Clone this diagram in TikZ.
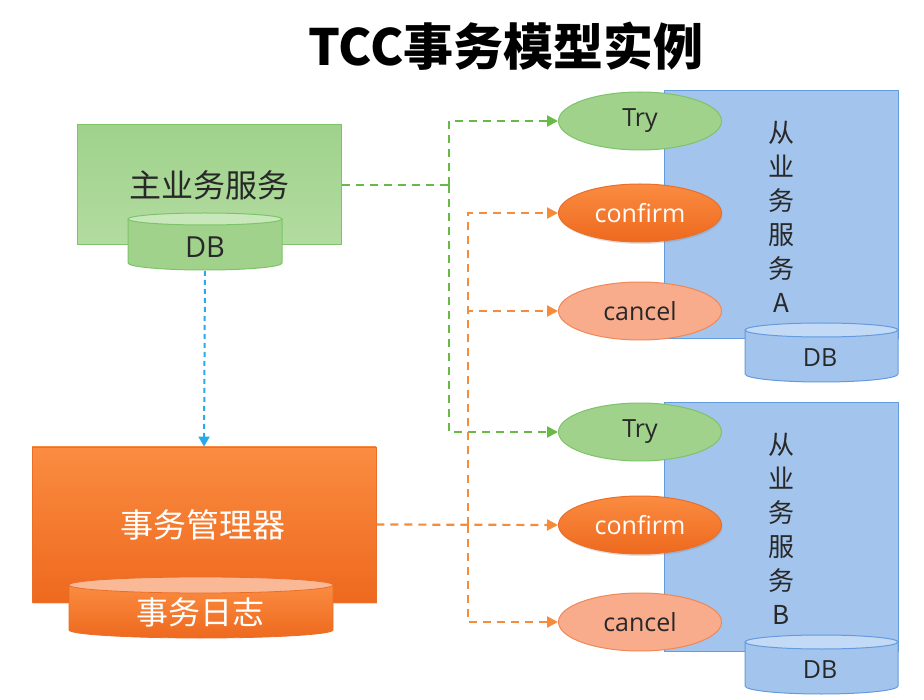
\documentclass[tikz,border=0pt]{standalone}
\usepackage{fontspec}
\setmainfont{Noto Sans CJK SC}
\newfontfamily\latinf{Open Sans}
\usetikzlibrary{shapes.geometric,arrows.meta,shadows}
\definecolor{gTop}{RGB}{160,210,140}
\definecolor{gBot}{RGB}{178,220,160}
\definecolor{gLine}{RGB}{125,195,105}
\definecolor{gDash}{RGB}{105,185,70}
\definecolor{oTop}{RGB}{250,140,65}
\definecolor{oBot}{RGB}{238,105,30}
\definecolor{oLine}{RGB}{235,110,40}
\definecolor{oDash}{RGB}{245,140,60}
\definecolor{oLight}{RGB}{250,185,150}
\definecolor{cFill}{RGB}{248,172,140}
\definecolor{cLine}{RGB}{240,135,85}
\definecolor{bFill}{RGB}{163,196,236}
\definecolor{bLine}{RGB}{100,155,222}
\definecolor{bLight}{RGB}{195,218,246}
\definecolor{bArrow}{RGB}{40,170,235}
\definecolor{txt}{RGB}{40,40,40}
\definecolor{gLight}{RGB}{200,232,188}
\tikzset{
  opbox/.style={ellipse, minimum width=163pt, minimum height=58pt, inner sep=0pt, line width=1pt},
  trybox/.style={opbox, fill=gTop, draw=gLine, text=txt, font=\latinf\fontsize{25}{28}\selectfont},
  confbox/.style={opbox, top color=oTop, bottom color=oBot, draw=oLine, text=white, font=\latinf\fontsize{25}{28}\selectfont, drop shadow={shadow xshift=1pt, shadow yshift=-2pt, opacity=0.25}},
  cancbox/.style={opbox, fill=cFill, draw=cLine, text=txt, font=\latinf\fontsize{25}{28}\selectfont},
  svcbox/.style={rectangle, fill=bFill, draw=bLine, line width=1pt, minimum width=234pt, minimum height=248pt, inner sep=0pt},
  gdash/.style={draw=gDash, line width=2.2pt, dash pattern=on 8pt off 6pt},
  odash/.style={draw=oDash, line width=2.2pt, dash pattern=on 8pt off 6pt},
  tip/.style={-{Triangle[length=11pt,width=11pt]}},
}
\begin{document}
\begin{tikzpicture}[x=1pt,y=-1pt]
\useasboundingbox[fill=white] (0,0) rectangle (924,700);
% title
\node[font=\bfseries\fontsize{50}{54}\selectfont, text=black] (title) at (506,46) {TCC事务模型实例};
% main service
\node[rectangle, minimum width=264pt, minimum height=120pt, top color=gTop, bottom color=gBot, draw=gLine, line width=1pt, text=txt, font=\fontsize{32}{36}\selectfont, inner sep=0pt] (main) at (209,185) {主业务服务};
% main DB cylinder
\fill[gTop] (128,219) -- (128,263) arc[start angle=180,end angle=0,x radius=77,y radius=7] -- (282,219) -- cycle;
\draw[gLine, line width=1pt] (128,219) -- (128,263) arc[start angle=180,end angle=0,x radius=77,y radius=7] -- (282,219);
\filldraw[fill=gLight, draw=gLine, line width=1pt] (205,219) ellipse[x radius=77, y radius=6];
\node[text=txt, font=\latinf\fontsize{29}{32}\selectfont] (mdb) at (205,247) {DB};
\coordinate (mdbbot) at (205,271);
% transaction manager
\node[rectangle, minimum width=344pt, minimum height=155pt, top color=oTop, bottom color=oBot, draw=oLine, line width=0.8pt, inner sep=0pt, drop shadow={shadow xshift=1pt, shadow yshift=-2pt, opacity=0.25}] (tm) at (204,524.5) {};
\node[text=white, font=\fontsize{33}{36}\selectfont] (tmtext) at (203,525) {事务管理器};
% log cylinder
\shade[top color=oTop, bottom color=oBot] (69,585) -- (69,630) arc[start angle=180,end angle=0,x radius=132,y radius=8] -- (333,585) -- cycle;
\draw[oLine, line width=0.8pt] (69,585) -- (69,630) arc[start angle=180,end angle=0,x radius=132,y radius=8] -- (333,585);
\filldraw[fill=oLight, draw=oLine, line width=0.8pt] (201,585) ellipse[x radius=132, y radius=8];
\node[text=white, font=\fontsize{32}{36}\selectfont] (log) at (200,612) {事务日志};
% service A
\node[svcbox] (sA) at (781,215) {};
\node[align=center, text=txt, font=\fontsize{26}{34}\selectfont] (sAt) at (781,217) {从\\业\\务\\服\\务\\A};
\fill[bFill] (745,330) -- (745,374) arc[start angle=180,end angle=0,x radius=76.5,y radius=8] -- (898,330) -- cycle;
\draw[bLine, line width=1pt] (745,330) -- (745,374) arc[start angle=180,end angle=0,x radius=76.5,y radius=8] -- (898,330);
\filldraw[fill=bLight, draw=bLine, line width=1pt] (821.5,330) ellipse[x radius=76.5, y radius=7];
\node[text=txt, font=\latinf\fontsize{25}{28}\selectfont] (dbA) at (820,358) {DB};
% service B
\node[svcbox] (sB) at (781,527) {};
\node[align=center, text=txt, font=\fontsize{26}{34}\selectfont] (sBt) at (781,529) {从\\业\\务\\服\\务\\B};
\fill[bFill] (745,642) -- (745,686) arc[start angle=180,end angle=0,x radius=76.5,y radius=8] -- (898,642) -- cycle;
\draw[bLine, line width=1pt] (745,642) -- (745,686) arc[start angle=180,end angle=0,x radius=76.5,y radius=8] -- (898,642);
\filldraw[fill=bLight, draw=bLine, line width=1pt] (821.5,642) ellipse[x radius=76.5, y radius=7];
\node[text=txt, font=\latinf\fontsize{25}{28}\selectfont] (dbB) at (820,670) {DB};
% operations
\node[trybox] (tryA) at (640,121) {Try};
\node[confbox] (confA) at (640,213) {confirm};
\node[cancbox] (cancA) at (640,311) {cancel};
\node[trybox] (tryB) at (640,432) {Try};
\node[confbox] (confB) at (640,525) {confirm};
\node[cancbox] (cancB) at (640,622) {cancel};
% connectors
\draw[bArrow, line width=2pt, dash pattern=on 5pt off 4pt, -{Triangle[length=10pt,width=11pt]}] (mdbbot) -- (tm.north);
\coordinate (gj) at (449,185);
\draw[gdash] (main.east) -- (gj);
\draw[gdash, tip] (gj) |- (tryA.west);
\draw[gdash, tip] (gj) |- (tryB.west);
\coordinate (oj) at (468,524.5);
\draw[odash, tip] (tm.east) -- (confB.west);
\draw[odash, tip] (oj) |- (confA.west);
\draw[odash, tip] (oj) |- (cancA.west);
\draw[odash, tip] (oj) |- (cancB.west);
\end{tikzpicture}
\end{document}
